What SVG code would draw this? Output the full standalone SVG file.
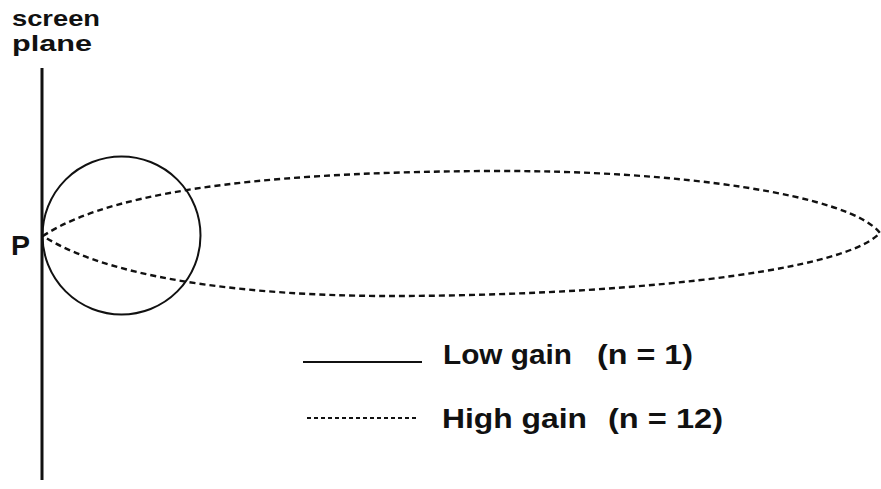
<svg xmlns="http://www.w3.org/2000/svg" width="881" height="489" viewBox="0 0 881 489">
<style>
.t{font-family:"Liberation Sans",Arial,sans-serif;font-weight:bold;fill:#111}
.solid{fill:none;stroke:#111;stroke-width:2}
.dash{fill:none;stroke:#111;stroke-width:2.4;stroke-dasharray:6 4}
</style>
<rect width="881" height="489" fill="#fff"/>
<g id="screen-plane">
<text class="t" x="12" y="26" font-size="22" textLength="88" lengthAdjust="spacingAndGlyphs">screen</text>
<text class="t" x="12" y="51" font-size="22" textLength="80" lengthAdjust="spacingAndGlyphs">plane</text>
<line x1="42" y1="68" x2="42" y2="480" stroke="#111" stroke-width="3"/>
</g>
<g id="point-P">
<text class="t" x="11" y="255" font-size="28" textLength="19" lengthAdjust="spacingAndGlyphs">P</text>
</g>
<g id="connectors">
<circle id="low-gain" class="solid" cx="121.5" cy="235.5" r="79"/>
<path id="high-gain" class="dash" d="M43 236 C120 185 300 172 490 171 C680 170 850 195 880 233 C840 275 600 296 390 296 C280 296 120 285 43 236 Z"/>
</g>
<g id="legend">
<line x1="303" y1="362" x2="422" y2="362" class="solid"/>
<text class="t" x="443" y="364" font-size="27" textLength="129" lengthAdjust="spacingAndGlyphs">Low gain</text>
<text class="t" x="597" y="364" font-size="27" textLength="96" lengthAdjust="spacingAndGlyphs">(n = 1)</text>
<line x1="307" y1="418" x2="418" y2="418" stroke="#111" stroke-width="2" stroke-dasharray="4 3"/>
<text class="t" x="442" y="428" font-size="27" textLength="145" lengthAdjust="spacingAndGlyphs">High gain</text>
<text class="t" x="608" y="428" font-size="27" textLength="115" lengthAdjust="spacingAndGlyphs">(n = 12)</text>
</g>
</svg>
